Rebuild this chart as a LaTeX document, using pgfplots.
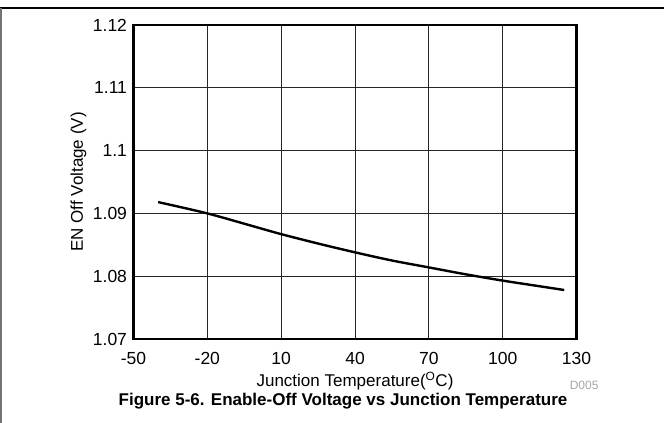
\documentclass[border=0pt]{standalone}
\usepackage{fontspec}
\setmainfont{Liberation Sans}
\usepackage{pgfplots}
\pgfplotsset{compat=1.18}

\begin{document}
\begin{tikzpicture}
\path[use as bounding box] (0pt,0pt) rectangle (664pt,-423pt);
% page frame
\draw[black, line width=1.6pt] (0pt,-8pt) -- (664pt,-8pt);
\draw[black!55, line width=1.6pt] (0.8pt,-8pt) -- (0.8pt,-423pt);
\begin{axis}[
  at={(133.5pt,-339pt)}, anchor=south west,
  scale only axis,
  width=443pt, height=314pt,
  xmin=-50, xmax=130,
  ymin=1.07, ymax=1.12,
  xtick={-50,-20,10,40,70,100,130},
  ytick={1.07,1.08,1.09,1.1,1.11,1.12},
  yticklabels={1.07,1.08,1.09,1.1,1.11,1.12},
  grid=major,
  major grid style={black!85, line width=1pt},
  axis line style={line width=2.6pt},
  tick style={draw=none},
  /pgf/number format/assume math mode=true,
  tick label style={font=\fontsize{17.5}{20}\selectfont},
  xticklabel style={anchor=center, yshift=-19pt},
  yticklabel style={anchor=east, xshift=-3pt},
  label style={font=\fontsize{17}{20}\selectfont},
  xlabel={Junction Temperature($^{\mathrm{O}}$C)},
  ylabel={EN Off Voltage (V)},
  xlabel style={at={(axis description cs:0.5,0)}, anchor=center, yshift=-42pt},
  ylabel style={at={(axis description cs:0,0.5)}, anchor=center, yshift=55pt},
]
\addplot[black, line width=2.4pt, smooth] coordinates {
  (-40,1.0918) (-20,1.0900) (0,1.0878) (10,1.0867) (25,1.0852)
  (40,1.0838) (55,1.0825) (70,1.0814) (85,1.0803) (100,1.0793)
  (115,1.0784) (125,1.0778)
};
\end{axis}
\node[anchor=east, text=black!35, font=\fontsize{12}{14}\selectfont] at (602pt,-385pt) {D005};
\node[font=\fontsize{17}{20}\selectfont\bfseries] at (343pt,-401pt) {Figure 5-6. Enable-Off Voltage vs Junction Temperature};
\end{tikzpicture}
\end{document}
